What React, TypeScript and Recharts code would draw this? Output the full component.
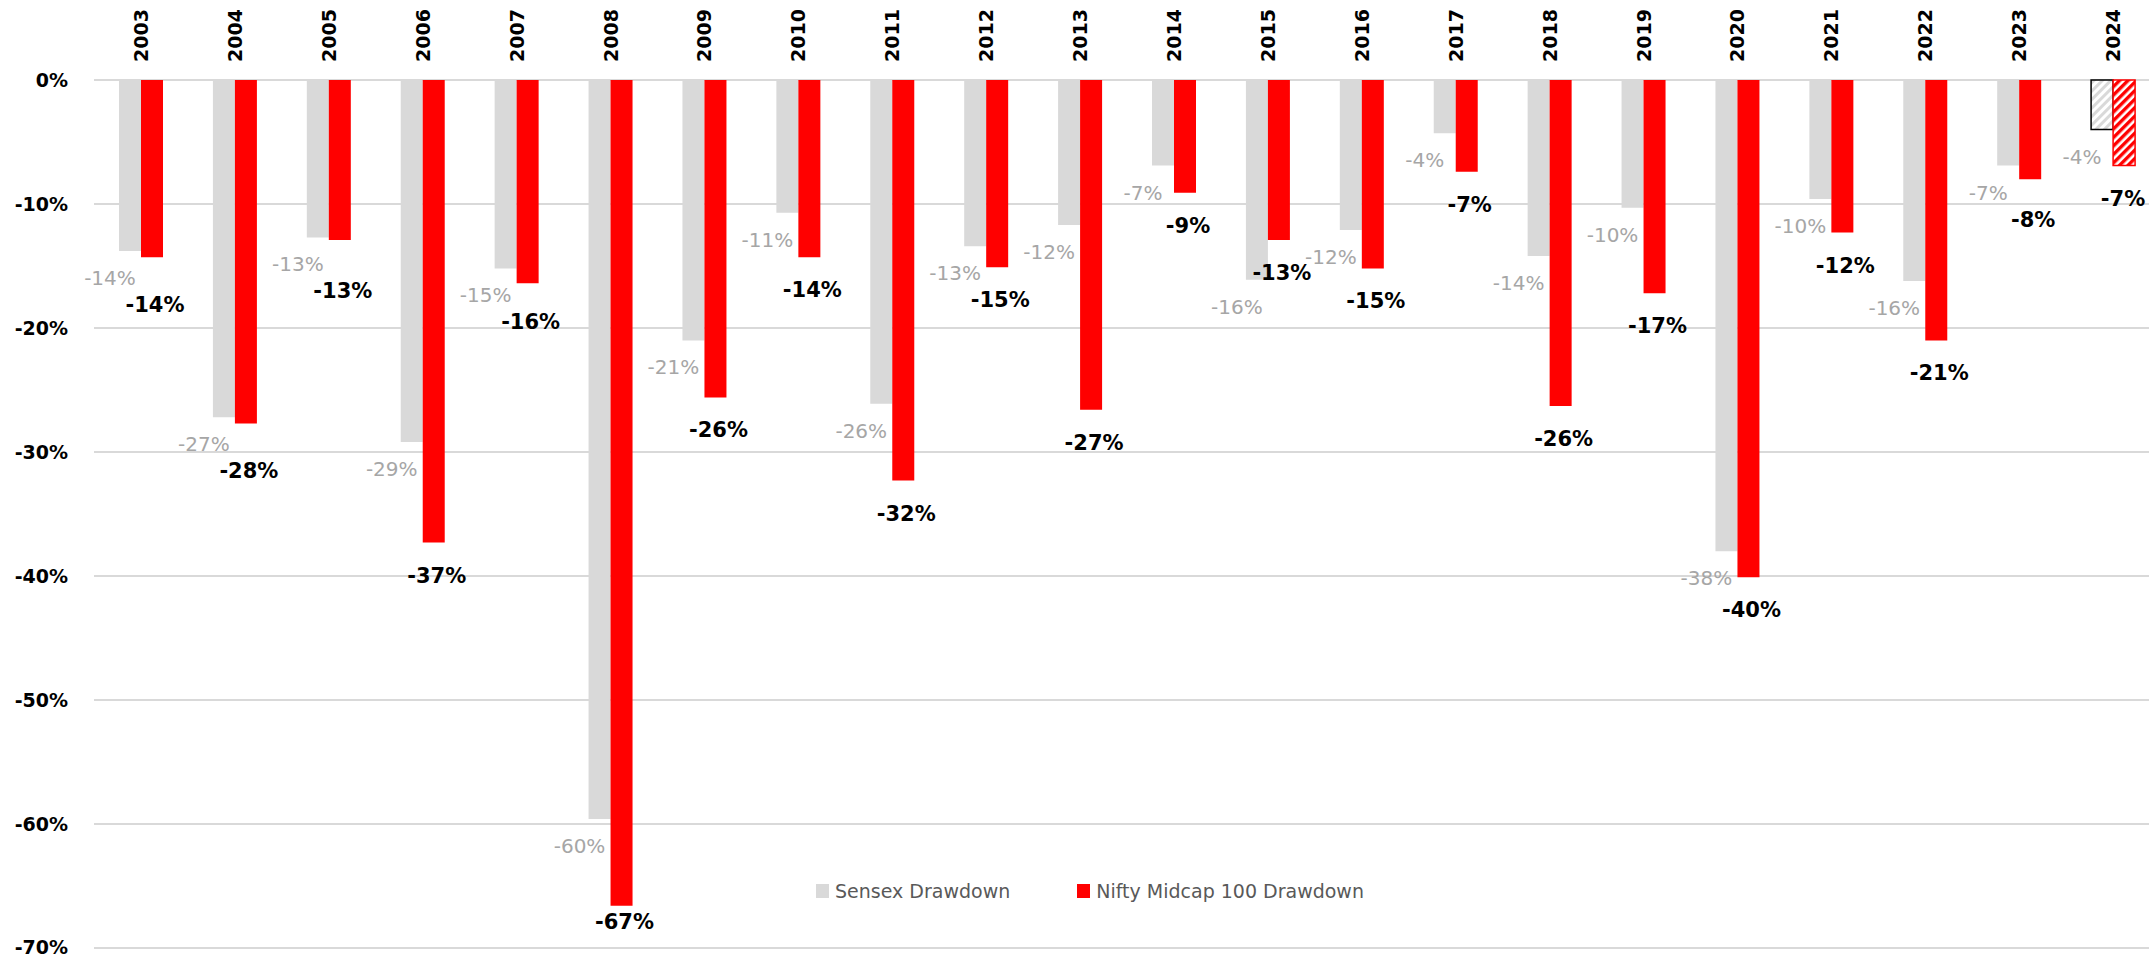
import React from 'react';
import {
  BarChart,
  Bar,
  XAxis,
  YAxis,
  CartesianGrid,
  Legend,
  LabelList,
  Cell,
} from 'recharts';

const years = [
  '2003', '2004', '2005', '2006', '2007', '2008', '2009', '2010', '2011', '2012', '2013',
  '2014', '2015', '2016', '2017', '2018', '2019', '2020', '2021', '2022', '2023', '2024',
];

// drawdown in %
const sensexDrawdown = [
  -13.8, -27.2, -12.7, -29.2, -15.2, -59.6, -21.0, -10.7, -26.1, -13.4, -11.7,
  -6.9, -16.1, -12.1, -4.3, -14.2, -10.3, -38.0, -9.6, -16.2, -6.9, -4.0,
];

const midcapDrawdown = [
  -14.3, -27.7, -12.9, -37.3, -16.4, -66.6, -25.6, -14.3, -32.3, -15.1, -26.6,
  -9.1, -12.9, -15.2, -7.4, -26.3, -17.2, -40.1, -12.3, -21.0, -8.0, -6.9,
];

const yTicks = [0, -10, -20, -30, -40, -50, -60, -70];

// year still running, drawn hatched
const partialYear = '2024';

const seriesNames = ['Sensex Drawdown', 'Nifty Midcap 100 Drawdown'];
const seriesColors = ['#d9d9d9', '#ff0000'];

const data = years.map((year, i) => ({
  year,
  sensex: sensexDrawdown[i],
  midcap: midcapDrawdown[i],
}));

const FONT = '"DejaVu Sans", Verdana, sans-serif';
const PAGE_WIDTH = 2149;
const LABEL_LIMIT_Y = 922;
const GRAY_OFFSET = 27;
const RED_OFFSET = 33;
const LABEL_SEPARATION = 27;

// round half away from zero, like Excel does
const pct = (v: number) => `${Math.sign(v) * Math.round(Math.abs(v))}%`;

function barBox(props: any) {
  const vb = props.viewBox && props.viewBox.width !== undefined ? props.viewBox : props;
  const x = Number(vb.x);
  const y = Number(vb.y);
  const w = Number(vb.width);
  const h = Number(vb.height);
  return { x, w, zero: Math.min(y, y + h), end: Math.max(y, y + h), len: Math.abs(h) };
}

const SensexLabel = (props: any) => {
  const { x, w, end } = barBox(props);
  return (
    <text
      x={x + w / 2 - 20}
      y={end + GRAY_OFFSET}
      textAnchor="middle"
      dominantBaseline="central"
      fill="#a6a6a6"
      fontSize={20}
      fontFamily={FONT}
    >
      {pct(props.value)}
    </text>
  );
};

const MidcapLabel = (props: any) => {
  const { x, w, zero, end, len } = barBox(props);
  const value = Number(props.value);
  // pixel end of the matching Sensex bar, from this bar's own scale
  const pxPerUnit = value !== 0 ? len / Math.abs(value) : 0;
  const grayEnd = zero + Math.abs(sensexDrawdown[props.index] ?? 0) * pxPerUnit;
  const grayLabelY = grayEnd + GRAY_OFFSET;
  let y = end + RED_OFFSET;
  if (Math.abs(y - grayLabelY) < LABEL_SEPARATION) y = grayLabelY + LABEL_SEPARATION;
  y = Math.min(y, LABEL_LIMIT_Y);
  const cx = Math.min(x + w / 2 + 3, PAGE_WIDTH - 26);
  return (
    <text
      x={cx}
      y={y}
      textAnchor="middle"
      dominantBaseline="central"
      fill="#000"
      fontSize={21}
      fontWeight="bold"
      fontFamily={FONT}
    >
      {pct(value)}
    </text>
  );
};

const YearTick = ({ x, y, payload }: any) => (
  <text
    transform={`translate(${x + 7},${y}) rotate(-90)`}
    textAnchor="start"
    fill="#000"
    fontSize={19}
    fontWeight="bold"
    fontFamily={FONT}
  >
    {payload.value}
  </text>
);

const renderLegend = () => (
  <div style={{ display: 'flex', alignItems: 'center', fontFamily: FONT, fontSize: 19, color: '#595959', lineHeight: '24px' }}>
    {seriesNames.map((name, i) => (
      <div key={name} style={{ display: 'flex', alignItems: 'center', marginRight: i === 0 ? 67 : 0 }}>
        <span style={{ display: 'inline-block', width: 13, height: 14, background: seriesColors[i], marginRight: 6 }} />
        <span>{name}</span>
      </div>
    ))}
  </div>
);

export default function App() {
  return (
    <div
      style={{
        position: 'absolute',
        left: 0,
        top: 0,
        width: PAGE_WIDTH,
        height: 958,
        overflow: 'hidden',
        background: '#fff',
      }}
    >
      <BarChart
        width={2170}
        height={958}
        data={data}
        margin={{ top: 0, right: 10, left: 0, bottom: 10 }}
        barSize={22}
        barGap={0}
      >
        <defs>
          <pattern id="hatchGray" patternUnits="userSpaceOnUse" width="6" height="6" patternTransform="rotate(45)">
            <rect width="6" height="6" fill="#fff" />
            <rect width="3" height="6" fill="#d9d9d9" />
          </pattern>
          <pattern id="hatchRed" patternUnits="userSpaceOnUse" width="6" height="6" patternTransform="rotate(45)">
            <rect width="6" height="6" fill="#fff" />
            <rect width="3.4" height="6" fill="#ff0000" />
          </pattern>
        </defs>
        <CartesianGrid horizontal vertical={false} stroke="#d9d9d9" strokeWidth={2} />
        <XAxis
          dataKey="year"
          orientation="top"
          height={80}
          axisLine={false}
          tickLine={false}
          tickSize={0}
          tickMargin={18}
          interval={0}
          tick={<YearTick />}
        />
        <YAxis
          width={94}
          domain={[-70, 0]}
          ticks={yTicks}
          axisLine={false}
          tickLine={false}
          tickSize={0}
          tickMargin={26}
          tickFormatter={(v: number) => `${v}%`}
          tick={{ fill: '#000', fontSize: 19, fontWeight: 'bold', fontFamily: FONT }}
        />
        <Legend
          layout="horizontal"
          verticalAlign="middle"
          align="center"
          content={renderLegend}
          wrapperStyle={{ left: 816, top: 879, width: 'auto' }}
        />
        <Bar dataKey="sensex" name={seriesNames[0]} fill={seriesColors[0]} isAnimationActive={false}>
          {data.map((d) =>
            d.year === partialYear ? (
              <Cell key={d.year} fill="url(#hatchGray)" stroke="#000" strokeWidth={1.5} />
            ) : (
              <Cell key={d.year} fill={seriesColors[0]} />
            )
          )}
          <LabelList dataKey="sensex" content={<SensexLabel />} />
        </Bar>
        <Bar dataKey="midcap" name={seriesNames[1]} fill={seriesColors[1]} isAnimationActive={false}>
          {data.map((d) =>
            d.year === partialYear ? (
              <Cell key={d.year} fill="url(#hatchRed)" stroke="#ff0000" strokeWidth={1.5} />
            ) : (
              <Cell key={d.year} fill={seriesColors[1]} />
            )
          )}
          <LabelList dataKey="midcap" content={<MidcapLabel />} />
        </Bar>
      </BarChart>
    </div>
  );
}
